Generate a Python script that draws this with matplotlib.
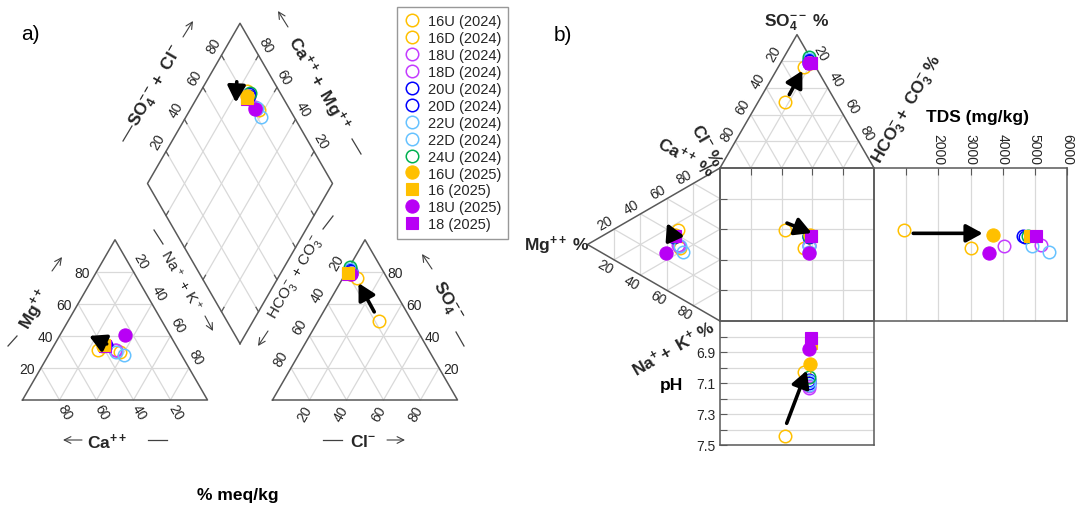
import numpy as np
import matplotlib
matplotlib.use('Agg')
import matplotlib.pyplot as plt

plt.rcParams['font.family'] = ['Liberation Sans', 'DejaVu Sans']
plt.rcParams['mathtext.fontset'] = 'custom'
plt.rcParams['mathtext.rm'] = 'Liberation Sans'
plt.rcParams['mathtext.bf'] = 'Liberation Sans:bold'
plt.rcParams['mathtext.it'] = 'Liberation Sans:italic'
plt.rcParams['mathtext.default'] = 'regular'

# ---------------- data ----------------
samples = ['16U (2024)', '16D (2024)', '18U (2024)', '18D (2024)', '20U (2024)',
           '20D (2024)', '22U (2024)', '22D (2024)', '24U (2024)', '16U (2025)',
           '16 (2025)', '18U (2025)', '18 (2025)']
colors = ['#FFC000', '#FFC000', '#C43BFF', '#C43BFF', '#0000FF', '#0000FF',
          '#66C2FF', '#66C2FF', '#00B050', '#FFC000', '#FFC000', '#B800F5', '#B800F5']
markers = ['o'] * 9 + ['o', 's', 'o', 's']
filled = [False] * 9 + [True] * 4

# cations (% meq)
Ca  = [43.7, 32.5, 33.7, 34.1, 38.3, 37.8, 34.2, 31.3, 38.5, 39.5, 38.5, 24.5, 38.5]
Mg  = [31.4, 30.0, 31.0, 31.5, 35.0, 34.5, 30.0, 28.0, 34.5, 34.0, 34.6, 40.5, 34.0]
NaK = [24.9, 37.5, 35.3, 34.4, 26.7, 27.7, 35.8, 40.7, 27.0, 26.5, 26.9, 35.0, 27.5]
# anions (% meq)
HCO3 = [17.5, 16.5, 18.0, 18.0, 17.5, 17.5, 17.0, 18.0, 16.5, 19.0, 19.5, 18.5, 20.0]
SO4  = [49.5, 76.0, 79.0, 79.5, 81.0, 80.5, 82.0, 79.0, 83.0, 78.5, 79.0, 78.5, 78.5]
Cl   = [33.0, 7.5, 3.0, 2.5, 1.5, 2.0, 1.0, 3.0, 0.5, 2.5, 1.5, 3.0, 1.5]
TDS  = [920, 3000, 4040, 5180, 4640, 4700, 4920, 5440, 4800, 3700, 4860, 3560, 5030]
pH   = [7.44, 7.03, 7.13, 7.12, 7.10, 7.08, 7.11, 7.09, 7.06, 6.98, 6.84, 6.88, 6.81]

ternary_ticks = [20, 40, 60, 80]
tds_ticks = [1000, 2000, 3000, 4000, 5000, 6000]
tds_ticklabels = ['', '2000', '3000', '4000', '5000', '6000']
ph_ticks = [6.8, 6.9, 7.0, 7.1, 7.2, 7.3, 7.4, 7.5]
ph_ticklabels = ['', '6.9', '', '7.1', '', '7.3', '', '7.5']

# annotation arrows (16U 2024 -> 2025 trend), in each panel's own units
arr_cat = ((37.0, 35.0, 28.0), (44.0, 40.0, 16.0))        # (Ca, Mg, NaK)
arr_an = ((17.5, 55.0, 27.5), (17.0, 73.0, 10.0))         # (HCO3, SO4, Cl)
arr_dia = ((80.0, 83.5), (73.0, 77.5))                    # (SO4+Cl, Ca+Mg)
arr_sq = ((43.5, 36.0), (59.5, 42.5))                     # square %
arr_tds = ((1220, 42.7), (3380, 42.7))
arr_ph = ((43.3, 7.36), (56.3, 7.02))

# ---------------- layout ----------------
FW, FH = 1075, 506
fig = plt.figure(figsize=(FW / 100, FH / 100), dpi=100)
ax = fig.add_axes([0, 0, 1, 1])
ax.set_xlim(0, FW)
ax.set_ylim(FH, 0)
ax.axis('off')

s3 = np.sqrt(3)
EDGE = '#595959'
GRID = '#D9D9D9'
TXT = '#262626'

PL, PBASE, PX0, PGAP = 185.0, 401.0, 22.5, 65.0
PHt = PL * s3 / 2
D0 = np.array([PX0 + PL + PGAP / 2, PBASE - PGAP / 2 * s3])


def cat_xy(ca, mg, nak):
    mg = np.asarray(mg, float); nak = np.asarray(nak, float)
    return PX0 + (nak + mg / 2) / 100 * PL, PBASE - mg / 100 * PHt


def an_xy(hco3, so4, cl):
    so4 = np.asarray(so4, float); cl = np.asarray(cl, float)
    return PX0 + PL + PGAP + (cl + so4 / 2) / 100 * PL, PBASE - so4 / 100 * PHt


def dia_xy(sc, cm):
    sc = np.asarray(sc, float); cm = np.asarray(cm, float)
    return D0[0] + (sc - cm) / 100 * PL / 2, D0[1] - (sc + cm) / 100 * PHt


SQX0, SQX1, SQY0, SQY1 = 720.0, 874.0, 169.0, 322.0
DW, DH = SQX1 - SQX0, SQY1 - SQY0
TTH = DW * s3 / 2
LTH = DH * s3 / 2
TDSX1 = 1067.0
PHY1 = 446.0


def top_xy(hco3, so4, cl):
    hco3 = np.asarray(hco3, float); so4 = np.asarray(so4, float)
    return SQX0 + (hco3 + so4 / 2) / 100 * DW, SQY0 - so4 / 100 * TTH


def left_xy(ca, mg, nak):
    mg = np.asarray(mg, float); nak = np.asarray(nak, float)
    return SQX0 - mg / 100 * LTH, SQY0 + (nak + mg / 2) / 100 * DH


def draw_tri(A, B, C):
    A, B, C = map(np.asarray, (A, B, C))
    for t in np.array(ternary_ticks) / 100:
        for P, Q, R in ((A, B, C), (B, A, C), (C, A, B)):
            p1 = P + t * (Q - P); p2 = P + t * (R - P)
            ax.plot([p1[0], p2[0]], [p1[1], p2[1]], color=GRID, lw=0.9, zorder=1)
    ax.plot([A[0], B[0], C[0], A[0]], [A[1], B[1], C[1], A[1]], color=EDGE, lw=1.1, zorder=2)


def txt(x, y, s, rot=0, size=10, bold=False, color=TXT, ha='center'):
    ax.text(x, y, s, rotation=rot, fontsize=size, ha=ha, va='center', color=color,
            fontweight='bold' if bold else 'normal', zorder=6, rotation_mode='anchor')


def thin_arrow(p_from, p_to):
    ax.annotate('', xy=p_to, xytext=p_from,
                arrowprops=dict(arrowstyle='->', lw=0.8, color='#404040',
                                shrinkA=0, shrinkB=0, mutation_scale=12))


def dash(p1, p2):
    ax.plot([p1[0], p2[0]], [p1[1], p2[1]], color='#404040', lw=0.9)


def big_arrow(axis, tail, head):
    axis.annotate('', xy=head, xytext=tail, zorder=7, annotation_clip=False,
                  arrowprops=dict(arrowstyle='-|>,head_length=0.55,head_width=0.3',
                                  lw=2.6, color='black', shrinkA=0, shrinkB=0,
                                  mutation_scale=18))


def mstyle(i, piper=False):
    c = colors[i]
    z = 4 if filled[i] else 3
    if piper and samples[i] == '16 (2025)':
        z = 4.5
    d = dict(marker=markers[i], ls='none', mec=c, zorder=z, clip_on=False)
    if filled[i]:
        d.update(mfc=c, ms=9.5 if markers[i] == 'o' else 8.0, mew=0.8)
    else:
        d.update(mfc='none', ms=9.0, mew=1.1)
    return d


# ---------------- Piper (a) ----------------
A1 = (PX0, PBASE); B1 = (PX0 + PL, PBASE); C1 = (PX0 + PL / 2, PBASE - PHt)
A2 = (PX0 + PL + PGAP, PBASE); B2 = (PX0 + 2 * PL + PGAP, PBASE); C2 = (PX0 + PL + PGAP + PL / 2, PBASE - PHt)
draw_tri(A1, B1, C1)
draw_tri(A2, B2, C2)

u1 = np.array([PL / 2, -PHt]); u2 = np.array([-PL / 2, -PHt])
R = D0 + u1; T = D0 + u1 + u2; Lf = D0 + u2
for t in np.array(ternary_ticks) / 100:
    p1 = D0 + t * u1; p2 = p1 + u2
    ax.plot([p1[0], p2[0]], [p1[1], p2[1]], color=GRID, lw=0.9, zorder=1)
    p1 = D0 + t * u2; p2 = p1 + u1
    ax.plot([p1[0], p2[0]], [p1[1], p2[1]], color=GRID, lw=0.9, zorder=1)
    # small dark ticks on diamond edges
    for base, d in ((D0 + t * u1, u2), (Lf + t * u1, -u2), (D0 + t * u2, u1), (R + t * u2, -u1)):
        e = base + d / np.linalg.norm(d) * 5
        ax.plot([base[0], e[0]], [base[1], e[1]], color=EDGE, lw=0.9, zorder=2)
ax.plot([D0[0], R[0], T[0], Lf[0], D0[0]], [D0[1], R[1], T[1], Lf[1], D0[1]], color=EDGE, lw=1.1, zorder=2)

A1a, B1a, C1a = map(np.array, (A1, B1, C1))
A2a, B2a, C2a = map(np.array, (A2, B2, C2))
for v in ternary_ticks:
    f = v / 100
    p = A1a + f * (C1a - A1a); txt(p[0] - 14, p[1] + 1, str(v))
    x = A1a[0] + (1 - f) * PL; txt(x + 5, PBASE + 12, str(v), rot=-60)
    p = C1a + f * (B1a - C1a); txt(p[0] + 7, p[1] - 11, str(v), rot=-60)
    x = A2a[0] + f * PL; txt(x - 5, PBASE + 13, str(v), rot=60)
    p = C2a + f * (A2a - C2a); txt(p[0] - 10, p[1] - 10, str(v), rot=60)
    p = B2a + f * (C2a - B2a); txt(p[0] + 12, p[1] + 1, str(v))
    p = Lf + f * (T - Lf); txt(p[0] - 8, p[1] - 10, str(v), rot=60)
    p = R + f * (T - R); txt(p[0] + 7, p[1] - 11, str(v), rot=-60)

# Piper axis titles
txt(35, 310, r'$\mathbf{Mg^{++}}$', rot=60, size=12.5)
dash((8, 347), (17, 337)); thin_arrow((52, 272), (62, 258))
txt(107, 442, r'$\mathbf{Ca^{++}}$', size=12.5)
thin_arrow((82, 441), (63, 441)); dash((148, 441), (167, 441))
txt(181, 280, r'Na$^+$ + K$^+$', rot=-60, size=11)
dash((154, 231), (163, 245)); thin_arrow((205, 317), (213, 332))
txt(296, 278, r'HCO$_3^-$ + CO$_3^-$', rot=60, size=11)
dash((323, 230), (333, 217)); thin_arrow((268, 332), (258, 347))
txt(447, 301, r'$\mathbf{SO_4^{--}}$', rot=-60, size=12.5)
thin_arrow((432, 270), (422, 255)); dash((456, 333), (464, 347))
txt(363, 442, r'$\mathbf{Cl^{-}}$', size=12.5)
dash((323, 441), (342, 441)); thin_arrow((387, 441), (405, 441))
txt(157, 87, r'$\mathbf{SO_4^{--}+\ Cl^{-}}$', rot=60, size=12.5)
thin_arrow((183, 38), (193, 22)); dash((123, 142), (132, 127))
txt(318, 84, r'$\mathbf{Ca^{++}+\ Mg^{++}}$', rot=-60, size=12.5)
thin_arrow((288, 28), (278, 12)); dash((352, 140), (361, 155))
txt(238, 496, '% meq/kg', size=12.5, bold=True, color='black')
txt(30, 34, 'a)', size=15, color='black')
txt(563, 35, 'b)', size=15, color='black')

# Piper data
handles = []
for i in range(len(samples)):
    st = mstyle(i, piper=True)
    h, = ax.plot(*cat_xy(Ca[i], Mg[i], NaK[i]), label=samples[i], **st)
    handles.append(h)
    ax.plot(*an_xy(HCO3[i], SO4[i], Cl[i]), **st)
    ax.plot(*dia_xy(SO4[i] + Cl[i], Ca[i] + Mg[i]), **st)

big_arrow(ax, cat_xy(*arr_cat[0]), cat_xy(*arr_cat[1]))
big_arrow(ax, an_xy(*arr_an[0]), an_xy(*arr_an[1]))
big_arrow(ax, dia_xy(*arr_dia[0]), dia_xy(*arr_dia[1]))

leg = ax.legend(handles=handles, loc='upper left', bbox_to_anchor=(397 / FW, 1 - 8 / FH),
                bbox_transform=fig.transFigure, fontsize=10.5, frameon=True, fancybox=False,
                edgecolor='#7F7F7F', borderaxespad=0, borderpad=0.5, labelspacing=0.2,
                handlelength=1.0, handletextpad=0.6, numpoints=1)
leg.get_frame().set_linewidth(1.0)
for t in leg.get_texts():
    t.set_color(TXT)

# ---------------- Durov (b) ----------------
BL = (SQX0, SQY0); BR = (SQX1, SQY0); AP = (SQX0 + DW / 2, SQY0 - TTH)
TOPV = (SQX0, SQY0); BOTV = (SQX0, SQY1); LAP = (SQX0 - LTH, SQY0 + DH / 2)
draw_tri(BL, BR, AP)
draw_tri(TOPV, BOTV, LAP)
BLa, BRa, APa = map(np.array, (BL, BR, AP))
TOPa, BOTa, LAPa = map(np.array, (TOPV, BOTV, LAP))
for v in ternary_ticks:
    f = v / 100
    p = APa + f * (BLa - APa); txt(p[0] - 8, p[1] - 8, str(v), rot=60)
    p = APa + f * (BRa - APa); txt(p[0] + 8, p[1] - 9, str(v), rot=-60)
    p = LAPa + f * (TOPa - LAPa); txt(p[0] - 9, p[1] - 7, str(v), rot=30)
    p = LAPa + f * (BOTa - LAPa); txt(p[0] - 9, p[1] + 7, str(v), rot=-30)

txt(797, 23, r'$\mathbf{SO_4^{--}\ \%}$', size=12.5)
txt(707, 146, r'$\mathbf{Cl^{-}\ \%}$', rot=-60, size=12.5)
txt(686, 157, r'$\mathbf{Ca^{++}\ \%}$', rot=-30, size=12.5)
txt(557, 246, r'$\mathbf{Mg^{++}\ \%}$', size=12.5)
txt(673, 348, r'$\mathbf{Na^{+}+\ K^{+}\ \%}$', rot=30, size=12.5)
txt(671, 386, 'pH', size=12.5, bold=True, color='black')
txt(908, 110, r'$\mathbf{HCO_3^{-}+\ CO_3^{-}\ \%}$', rot=60, size=12.5)
txt(977, 117, 'TDS (mg/kg)', size=12.5, bold=True, color='black')

for i in range(len(samples)):
    st = mstyle(i)
    ax.plot(*top_xy(HCO3[i], SO4[i], Cl[i]), **st)
    ax.plot(*left_xy(Ca[i], Mg[i], NaK[i]), **st)
big_arrow(ax, top_xy(*arr_an[0]), top_xy(*arr_an[1]))
big_arrow(ax, left_xy(*arr_cat[0]), left_xy(*arr_cat[1]))


def rect_axes(x0, y0, x1, y1):
    a = fig.add_axes([x0 / FW, 1 - y1 / FH, (x1 - x0) / FW, (y1 - y0) / FH])
    a.patch.set_alpha(0)
    for s in a.spines.values():
        s.set_color(EDGE); s.set_linewidth(1.1)
    a.tick_params(direction='in', length=5, color=EDGE, labelsize=10, labelcolor=TXT)
    return a


X = [h + s / 2 for h, s in zip(HCO3, SO4)]
Y = [n + m / 2 for n, m in zip(NaK, Mg)]

axs = rect_axes(SQX0, SQY0, SQX1, SQY1)
axs.set_xlim(0, 100); axs.set_ylim(100, 0)
axs.set_xticks(ternary_ticks); axs.set_yticks(ternary_ticks)
axs.xaxis.tick_top()
axs.tick_params(labelleft=False, labeltop=False, labelbottom=False)
axs.grid(True, color=GRID, lw=0.9)
axs.set_axisbelow(True)

axt = rect_axes(SQX1, SQY0, TDSX1, SQY1)
axt.set_xlim(0, 6000); axt.set_ylim(100, 0)
axt.xaxis.tick_top()
axt.set_xticks(tds_ticks); axt.set_xticklabels(tds_ticklabels)
axt.tick_params(axis='x', labelrotation=270, pad=3)
axt.set_yticks([])
axt.grid(True, axis='x', color=GRID, lw=0.9)
axt.set_axisbelow(True)

axp = rect_axes(SQX0, SQY1, SQX1, PHY1)
axp.set_xlim(0, 100); axp.set_ylim(7.5, 6.7)
axp.set_yticks(ph_ticks); axp.set_yticklabels(ph_ticklabels)
axp.set_xticks([])
axp.tick_params(axis='y', pad=3)
axp.grid(True, axis='y', color=GRID, lw=0.9)
axp.set_axisbelow(True)

for i in range(len(samples)):
    st = mstyle(i)
    axs.plot(X[i], Y[i], **st)
    axt.plot(TDS[i], Y[i], **st)
    axp.plot(X[i], pH[i], **st)

big_arrow(axs, arr_sq[0], arr_sq[1])
big_arrow(axt, arr_tds[0], arr_tds[1])
big_arrow(axp, arr_ph[0], arr_ph[1])

fig.savefig('out.png', dpi=100)
